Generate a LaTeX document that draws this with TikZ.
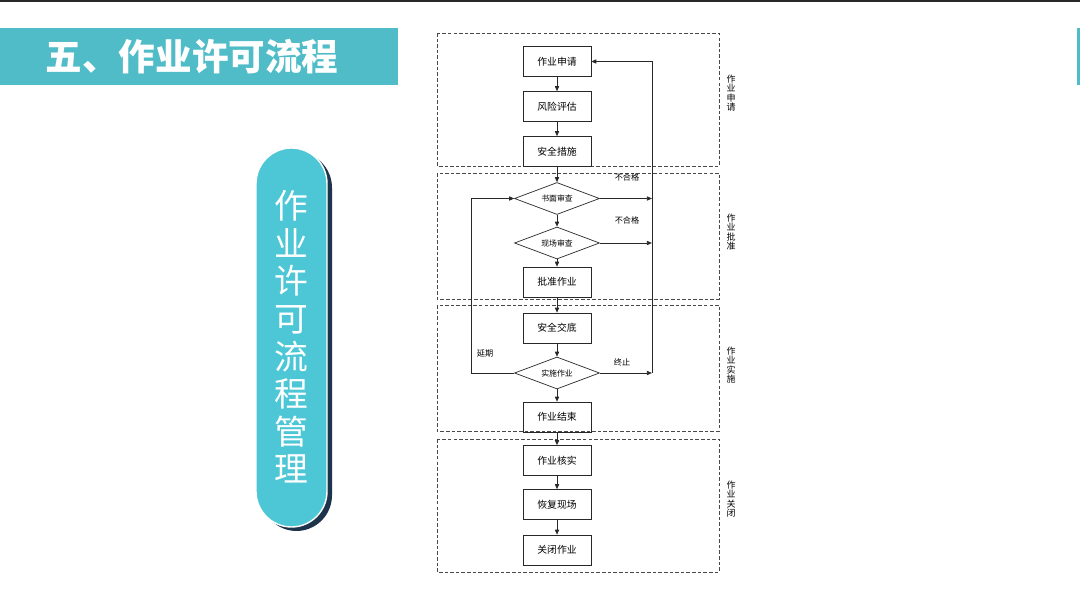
\documentclass[tikz,border=0pt]{standalone}
\usepackage{fontspec}
\setmainfont{Noto Sans CJK SC}
\usetikzlibrary{shapes.geometric,arrows.meta}
\definecolor{permitteal}{RGB}{80,188,199}
\definecolor{permitpill}{RGB}{77,199,214}
\definecolor{permitnavy}{RGB}{30,52,74}
\definecolor{permitline}{RGB}{40,40,40}

\begin{document}
\begin{tikzpicture}[x=0.025cm,y=-0.025cm,
  stepbox/.style={draw=permitline, line width=0.5pt, minimum width=1.7cm, minimum height=0.75cm, inner sep=0pt, font=\fontsize{7}{8}\selectfont},
  check/.style={diamond, draw=permitline, line width=0.5pt, aspect=2.6, minimum width=2.125cm, minimum height=0.8cm, inner sep=0pt, font=\fontsize{5.6}{6}\selectfont},
  stage/.style={draw=permitline!85, dash pattern=on 2.5pt off 1.5pt, line width=0.6pt},
  flow/.style={draw=permitline, line width=0.5pt, -{Triangle[length=3.5pt,width=3pt]}},
  note/.style={font=\fontsize{5.8}{6}\selectfont, inner sep=0pt},
  stagelabel/.style={font=\fontsize{6.4}{6.8}\selectfont, align=center, inner sep=0pt}]

\useasboundingbox (0,0) rectangle (1080,591);
\fill[white] (0,0) rectangle (1080,591);
\fill[permitline] (0,0) rectangle (1080,2);
\fill[permitteal] (1077,28) rectangle (1080,85);

\fill[permitteal] (0,28) rectangle (398,85);
\node[text=white, font=\fontsize{26}{28}\selectfont\bfseries] (title) at (192,57) {五、作业许可流程};

\fill[permitnavy, rounded corners=0.89cm] (261,152) rectangle (332,531);
\draw[white, line width=1pt, fill=permitpill, rounded corners=0.89cm] (256,148) rectangle (327,527);
\node[text=white, font=\fontsize{24}{26.7}\selectfont, align=center, inner sep=0pt] (pilltext) at (291.5,337) {作\\业\\许\\可\\流\\程\\管\\理};

\draw[stage] (437,33) rectangle (719,166);
\draw[stage] (437,173) rectangle (719,299);
\draw[stage] (437,305) rectangle (719,431);
\draw[stage] (437,439) rectangle (719,572);

\node[stagelabel] (stageapply) at (731,93) {作\\业\\申\\请};
\node[stagelabel] (stageapprove) at (731,232) {作\\业\\批\\准};
\node[stagelabel] (stageexec) at (731,365) {作\\业\\实\\施};
\node[stagelabel] (stageclose) at (731,499) {作\\业\\关\\闭};

\node[stepbox] (apply) at (557,61.5) {作业申请};
\node[stepbox] (risk) at (557,106.5) {风险评估};
\node[stepbox] (measure) at (557,151.5) {安全措施};
\node[check] (review) at (557,198.5) {书面审查};
\node[check] (site) at (557,243) {现场审查};
\node[stepbox] (approve) at (557,282) {批准作业};
\node[stepbox] (brief) at (557,328) {安全交底};
\node[check] (exec) at (557,373) {实施作业};
\node[stepbox] (finish) at (557,417) {作业结束};
\node[stepbox] (verify) at (557,460.5) {作业核实};
\node[stepbox] (restore) at (557,504.5) {恢复现场};
\node[stepbox] (close) at (557,550) {关闭作业};

\node[note] (failpaper) at (627,177) {不合格};
\node[note] (failsite) at (627,220) {不合格};
\node[note] (stoplabel) at (622,362) {终止};
\node[note] (delaylabel) at (485,353) {延期};

\draw[flow] (apply) -- (risk);
\draw[flow] (risk) -- (measure);
\draw[flow] (measure) -- (review);
\draw[flow] (review) -- (site);
\draw[flow] (site) -- (approve);
\draw[flow] (approve) -- (brief);
\draw[flow] (brief) -- (exec);
\draw[flow] (exec) -- (finish);
\draw[flow] (finish) -- (verify);
\draw[flow] (verify) -- (restore);
\draw[flow] (restore) -- (close);

\draw[flow] (review.east) -- ++(52,0);
\draw[flow] (site.east) -- ++(52,0);
\draw[flow] (exec.east) -- ++(52,0) coordinate (stopturn);
\draw[flow] (stopturn) |- (apply.east);
\draw[flow] (exec.west) -- ++(-43,0) |- (review.west);
\end{tikzpicture}
\end{document}
